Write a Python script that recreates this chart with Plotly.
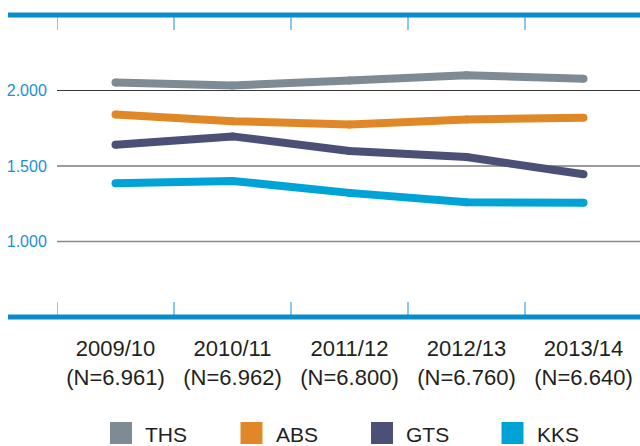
import plotly.graph_objects as go

# ---- data ----
years = ["2009/10", "2010/11", "2011/12", "2012/13", "2013/14"]
n_labels = ["6.961", "6.962", "6.800", "6.760", "6.640"]
series_names = ["THS", "ABS", "GTS", "KKS"]
ths = [2053, 2033, 2066, 2101, 2077]
abs_ = [1841, 1797, 1775, 1808, 1820]
gts = [1641, 1696, 1599, 1559, 1445]
kks = [1386, 1401, 1322, 1260, 1256]
y_ticks = [1000, 1500, 2000]
y_tick_text = ["1.000", "1.500", "2.000"]

series_values = [ths, abs_, gts, kks]
colors = ["#7e8b94", "#e08827", "#4a5076", "#00a3d6"]

BAND = "#0a8cc8"
TICKBLUE = "#62b6e0"
TEXT = "#231f20"
FONT = "Liberation Sans, Arial, sans-serif"

W, H = 640, 446
ML, MR, MT, MB = 57, 0, 15, 129
PW = W - ML - MR
PH = H - MT - MB

x = list(range(len(years)))
fig = go.Figure()
for name, vals, c in zip(series_names, series_values, colors):
    fig.add_trace(go.Scatter(
        x=x, y=vals, name=name, mode="lines+markers",
        line=dict(color=c, width=8),
        marker=dict(color=c, size=8, line=dict(width=0)),
        showlegend=False, hoverinfo="skip"))

def px_to_paper_x(px):
    return (px - ML) / PW

def px_to_paper_y(py):
    return (H - MB - py) / PH

shapes = []
# gridlines (1.000 lighter)
for v in y_ticks:
    shapes.append(dict(type="line", xref="paper", yref="y", x0=0, x1=1, y0=v, y1=v,
                       line=dict(color="#8a8a8a" if v == min(y_ticks) else "#3a3a3a",
                                 width=1.5 if v == min(y_ticks) else 1.1),
                       layer="below"))
# category boundary ticks
for i in range(len(years)):
    b = i - 0.5
    shapes.append(dict(type="line", xref="x", yref="paper", x0=b, x1=b,
                       y0=1, y1=px_to_paper_y(30), line=dict(color=TICKBLUE, width=1.5)))
    shapes.append(dict(type="line", xref="x", yref="paper", x0=b, x1=b,
                       y0=0, y1=px_to_paper_y(302), line=dict(color=TICKBLUE, width=1.5)))
# top and bottom bands (paper refs so they are not clipped)
for yp in (0, 1):
    shapes.append(dict(type="line", xref="paper", yref="paper", x0=px_to_paper_x(8), x1=1,
                       y0=yp, y1=yp, line=dict(color=BAND, width=5)))

# manual legend
annotations = []
leg_x0 = 110
leg_step = 130.5
for i, (name, c) in enumerate(zip(series_names, colors)):
    sx = leg_x0 + i * leg_step
    shapes.append(dict(type="rect", xref="paper", yref="paper",
                       x0=px_to_paper_x(sx), x1=px_to_paper_x(sx + 22),
                       y0=px_to_paper_y(444), y1=px_to_paper_y(422),
                       fillcolor=c, line=dict(width=0)))
    annotations.append(dict(xref="paper", yref="paper", x=px_to_paper_x(sx + 33),
                            y=px_to_paper_y(434), text=name, showarrow=False,
                            xanchor="left", yanchor="middle",
                            font=dict(family=FONT, size=21, color=TEXT)))

tick_text = [f"{yr}<br>(N={n})" for yr, n in zip(years, n_labels)]

fig.update_layout(
    width=W, height=H,
    margin=dict(l=ML, r=MR, t=MT, b=MB, pad=0),
    paper_bgcolor="white", plot_bgcolor="white",
    showlegend=False,
    shapes=shapes, annotations=annotations,
    xaxis=dict(range=[-0.5, -0.5 + PW / 117.0], tickvals=x, ticktext=tick_text,
               showgrid=False, zeroline=False, showline=False,
               ticks="outside", ticklen=12, tickcolor="rgba(0,0,0,0)",
               tickfont=dict(family=FONT, size=22, color=TEXT), fixedrange=True),
    yaxis=dict(range=[500, 2500], tickvals=y_ticks, ticktext=y_tick_text,
               showgrid=False, zeroline=False, showline=False,
               ticks="outside", ticklen=6, tickcolor="rgba(0,0,0,0)",
               tickfont=dict(family=FONT, size=16, color="#1b8fcf"), fixedrange=True),
)

fig.write_html("out.html", config={"displayModeBar": False, "staticPlot": True},
               post_script="document.body.style.margin='0';document.body.style.overflow='hidden';")
